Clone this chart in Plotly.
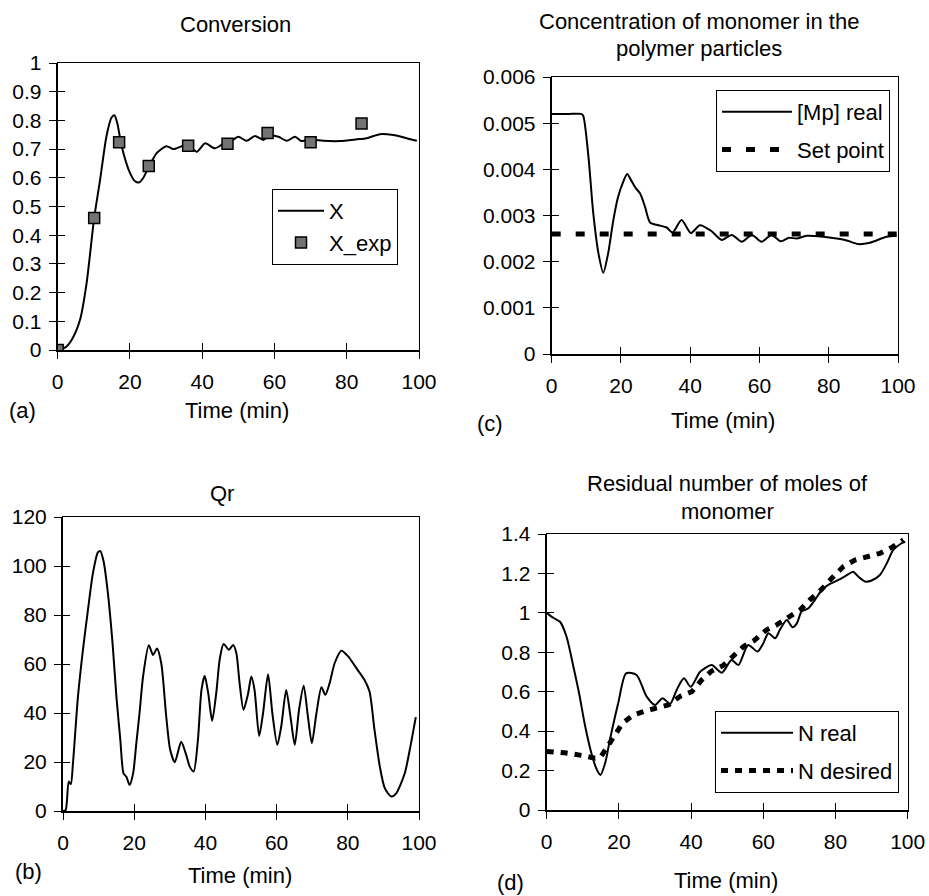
import plotly.graph_objects as go

# ---------------- data ----------------
# (a) Conversion
x_time = [0, 2, 3.9, 6.2, 8, 10.1, 11.7, 13.5, 14.9, 15.7, 16.5, 17.7, 20, 21.4, 22.6, 23.7,
          25.3, 27.4, 30.1, 32, 34.3, 36.1, 38.5, 40.8, 43.5, 46, 48, 50, 52.3, 54.6, 56.9,
          58.7, 61.1, 63.4, 65.7, 67.5, 70.2, 73.5, 78.1, 82.8, 85.5, 89.2, 92.9, 96.6, 99.4]
x_model = [0, 0.008, 0.036, 0.106, 0.233, 0.46, 0.59, 0.745, 0.81, 0.818, 0.79, 0.71, 0.617,
           0.588, 0.584, 0.6, 0.64, 0.686, 0.71, 0.70, 0.71, 0.715, 0.691, 0.72, 0.703, 0.72,
           0.728, 0.743, 0.729, 0.746, 0.732, 0.748, 0.743, 0.729, 0.743, 0.728, 0.733, 0.729,
           0.728, 0.734, 0.738, 0.752, 0.749, 0.738, 0.729]
xexp_time = [0, 10.1, 17, 25.2, 36.1, 47, 58.1, 70, 84.1]
xexp_val = [0, 0.46, 0.724, 0.641, 0.712, 0.719, 0.756, 0.724, 0.789]

# (c) Concentration of monomer in the polymer particles
mp_time = [0, 5, 8.5, 9.1, 10.6, 12, 13.5, 14.9, 16.3, 17.8, 19.2, 20.7, 21.8, 23.1, 24.2,
           25.5, 26.9, 28.4, 30.8, 33.2, 34.9, 37.5, 40.2, 42.8, 46, 49.1, 52, 54.9, 57.8,
           60.6, 63.5, 66.2, 68.5, 70.7, 73.6, 78.4, 82.3, 85.2, 88.5, 91.9, 96.7, 99.6]
mp_real = [0.0052, 0.0052, 0.0052, 0.00516, 0.00428, 0.00305, 0.00218, 0.00176, 0.00218,
           0.0029, 0.00341, 0.00374, 0.0039, 0.00374, 0.0036, 0.00348, 0.0032, 0.00285,
           0.00279, 0.00274, 0.00263, 0.0029, 0.00262, 0.00279, 0.00267, 0.00247, 0.00258,
           0.00243, 0.00258, 0.00243, 0.00258, 0.00244, 0.00252, 0.0025, 0.00256, 0.00254,
           0.0025, 0.00246, 0.00238, 0.00241, 0.00254, 0.00256]
sp_time = [0, 100]
sp_val = [0.0026, 0.0026]

# (b) Qr
qr_time = [0, 0.75, 1.6, 2.2, 2.8, 4.2, 5.6, 7, 8.4, 9.8, 10.5, 11.4, 12.6, 14, 15, 16.1, 17,
           17.8, 18.7, 19.7, 20.6, 21.5, 22.5, 24.1, 25.3, 26.4, 27.6, 29, 30.1, 31.4, 33.2,
           34.6, 35.6, 36.7, 37.9, 38.9, 39.8, 40.8, 41.9, 43.1, 44, 45.1, 46.6, 47.8, 48.7,
           49.6, 50.7, 52, 52.9, 53.8, 55.1, 56.2, 57.6, 58.8, 60.2, 61.3, 62.7, 63.9, 65.1,
           66.3, 67.6, 68.8, 69.9, 71.2, 72.6, 73.7, 74.9, 76.3, 78.2, 80.1, 82.4, 84.7, 86.1,
           87.5, 89, 90.4, 92.2, 93.6, 96, 97.4, 99.1]
qr_val = [0, 0.4, 12, 11, 19.5, 46.7, 65.8, 82, 97, 105.6, 106.1, 101.9, 89, 67, 46.7, 29,
          15.4, 14, 10.6, 15.4, 27.7, 40, 55, 67.7, 63.7, 66.3, 60.3, 38.5, 25, 19.9, 28.3,
          22.9, 18.1, 16.1, 29, 49.4, 55.2, 48, 36.8, 48.8, 61.7, 68.2, 65.8, 67.8, 64.4,
          52.2, 41.3, 48, 54.9, 49.4, 30.6, 40, 55.8, 40, 27, 34.5, 49.4, 38.5, 27, 41.3,
          51.1, 38.5, 27.7, 40, 50.5, 47.4, 52.2, 60.3, 65.4, 63.1, 58.3, 53.5, 48.8, 33.1,
          18.1, 9.3, 5.9, 7.2, 15.4, 24.9, 38.3]

# (d) Residual number of moles of monomer
nr_time = [0, 1.8, 3.7, 5.5, 7.4, 9, 10.6, 12.5, 13.9, 14.9, 16.2, 17.5, 19.8, 22, 24.9,
           27.7, 30, 32.1, 34.2, 36, 38, 39.9, 42.5, 45.7, 48.5, 51.2, 53.1, 55.8, 58.4, 60,
           61.4, 63.3, 64.6, 66.5, 68.1, 69.3, 70.6, 72.5, 74.3, 76.2, 78, 80.8, 83.6, 84.9,
           86.3, 88.2, 90, 92.3, 94.2, 96, 98.3, 99.3]
n_real = [1.0, 0.975, 0.955, 0.879, 0.727, 0.59, 0.43, 0.28, 0.204, 0.178, 0.238, 0.355,
          0.541, 0.693, 0.685, 0.575, 0.533, 0.567, 0.538, 0.609, 0.668, 0.625, 0.701, 0.735,
          0.696, 0.761, 0.735, 0.837, 0.804, 0.846, 0.897, 0.871, 0.914, 0.964, 0.927, 0.947,
          1.007, 1.023, 1.066, 1.116, 1.142, 1.167, 1.196, 1.209, 1.184, 1.159, 1.164, 1.192,
          1.251, 1.319, 1.353, 1.361]
nd_time = [0, 5, 10, 13.4, 15, 16.6, 18.6, 21, 24, 27.7, 30.5, 33.7, 36.9, 40.2, 42.9, 45.7,
           48.9, 51.7, 54.5, 57.5, 60.9, 63.7, 66.9, 70.2, 72.9, 76.2, 78.9, 82.2, 85.4, 89.1,
           92.3, 95.6, 98.8]
n_desired = [0.297, 0.29, 0.276, 0.263, 0.27, 0.321, 0.372, 0.44, 0.482, 0.504, 0.516, 0.533,
             0.576, 0.6, 0.659, 0.705, 0.733, 0.779, 0.829, 0.86, 0.914, 0.939, 0.978, 1.015,
             1.066, 1.12, 1.175, 1.235, 1.268, 1.285, 1.302, 1.332, 1.37]

x_ticks = [0, 20, 40, 60, 80, 100]

# ---------------- layout helpers ----------------
W, H = 929, 896
FONT = "Liberation Sans, Arial, Helvetica, sans-serif"


def fx(p):
    return p / W


def fy(p):
    return 1 - p / H


fig = go.Figure()

LINE = dict(color="black", width=2, shape="spline", smoothing=0.7)

# (a)
fig.add_trace(go.Scatter(x=x_time, y=x_model, mode="lines", name="X", line=LINE,
                         xaxis="x", yaxis="y", legend="legend", legendgroup="a1"))
fig.add_trace(go.Scatter(x=xexp_time, y=xexp_val, mode="markers", name="X_exp",
                         marker=dict(symbol="square", size=11, color="#737373",
                                     line=dict(color="black", width=1.5)),
                         xaxis="x", yaxis="y", legend="legend", legendgroup="a2"))
# (c)
fig.add_trace(go.Scatter(x=sp_time, y=sp_val, mode="lines", name="Set point",
                         line=dict(color="black", width=5, dash="9px,15px"),
                         xaxis="x2", yaxis="y2", legend="legend2", legendgroup="c2",
                         legendrank=2))
fig.add_trace(go.Scatter(x=mp_time, y=mp_real, mode="lines", name="[Mp] real", line=LINE,
                         xaxis="x2", yaxis="y2", legend="legend2", legendgroup="c1",
                         legendrank=1))
# (b)
fig.add_trace(go.Scatter(x=qr_time, y=qr_val, mode="lines", name="Qr", line=LINE,
                         xaxis="x3", yaxis="y3", showlegend=False))
# (d)
fig.add_trace(go.Scatter(x=nd_time, y=n_desired, mode="lines", name="N desired",
                         line=dict(color="black", width=5, dash="7px,7px"),
                         xaxis="x4", yaxis="y4", legend="legend3", legendgroup="d2",
                         legendrank=2))
fig.add_trace(go.Scatter(x=nr_time, y=n_real, mode="lines", name="N real", line=LINE,
                         xaxis="x4", yaxis="y4", legend="legend3", legendgroup="d1",
                         legendrank=1))

# empty traces on the overlay axes (inner tick marks + thin frame)
for i in range(5, 9):
    fig.add_trace(go.Scatter(x=[], y=[], xaxis=f"x{i}", yaxis=f"y{i}", showlegend=False,
                             hoverinfo="skip"))

panels = [
    # n, (left, right, top, bottom) px, y range, y dtick
    (1, (57.7, 419, 63, 350), [0, 1], 0.1),
    (2, (551.7, 898, 77, 354), [0, 0.006], 0.001),
    (3, (63, 419, 517, 811), [0, 120], 20),
    (4, (546.7, 907.7, 534, 810), [0, 1.4], 0.2),
]

lay = {}
for n, (l, r, t, b), yr, ydt in panels:
    sx = "" if n == 1 else str(n)
    xdom = [fx(l), fx(r)]
    ydom = [fy(b), fy(t)]
    common = dict(showgrid=False, zeroline=False, fixedrange=True, tickcolor="black",
                  tickwidth=1, ticklen=7, automargin=False,
                  tickfont=dict(size=21, color="black", family=FONT))
    lay[f"xaxis{sx}"] = dict(domain=xdom, range=[0, 100], tickvals=x_ticks, anchor=f"y{sx}",
                             showline=True, linecolor="black", linewidth=2, ticks="outside",
                             ticklabelstandoff=5, **common)
    lay[f"yaxis{sx}"] = dict(domain=ydom, range=yr, dtick=ydt, tick0=0, anchor=f"x{sx}",
                             showline=True, linecolor="black", linewidth=2, ticks="outside",
                             ticklabelstandoff=3, **common)
    o = n + 4
    lay[f"xaxis{o}"] = dict(overlaying=f"x{sx}", anchor=f"y{sx}", range=[0, 100],
                            tickvals=x_ticks, ticks="inside", showticklabels=False,
                            showline=True, linecolor="black", linewidth=1, mirror=True,
                            **common)
    lay[f"yaxis{o}"] = dict(overlaying=f"y{sx}", anchor=f"x{sx}", range=yr, dtick=ydt,
                            tick0=0, side="left", ticks="inside", showticklabels=False,
                            showline=True, linecolor="black", linewidth=1, mirror=True,
                            **common)

fig.update_layout(**lay)

legend_common = dict(xanchor="left", yanchor="top", bordercolor="black", borderwidth=1,
                     bgcolor="white", font=dict(size=22, color="black", family=FONT),
                     traceorder="grouped")
fig.update_layout(
    legend=dict(x=fx(272), y=fy(189), tracegroupgap=0, itemwidth=46, **legend_common),
    legend2=dict(x=fx(716), y=fy(90), tracegroupgap=6, itemwidth=70, **legend_common),
    legend3=dict(x=fx(715), y=fy(711), tracegroupgap=6, itemwidth=72, **legend_common),
)

# texts
texts = [
    ("Conversion", 235, 24),
    ("Concentration of monomer in the", 699, 21),
    ("polymer particles", 699, 48),
    ("Qr", 222, 493),
    ("Residual number of moles of", 727, 483),
    ("monomer", 727, 511),
    ("Time (min)", 237, 410),
    ("Time (min)", 723, 420),
    ("Time (min)", 240, 875),
    ("Time (min)", 726, 880),
    ("(a)", 22, 410),
    ("(c)", 490, 423),
    ("(b)", 28, 871),
    ("(d)", 510, 882),
]
anns = []
for txt, x, y in texts:
    anns.append(dict(text=txt, x=fx(x), y=fy(y), xref="paper", yref="paper",
                     xanchor="center", yanchor="middle", showarrow=False,
                     font=dict(size=22, color="black", family=FONT)))

fig.update_layout(
    annotations=anns,
    width=W, height=H, autosize=False,
    margin=dict(l=0, r=0, t=0, b=0, pad=0),
    paper_bgcolor="white", plot_bgcolor="white",
    font=dict(family=FONT, color="black"),
    hovermode=False,
)

fig.write_html("out.html")
